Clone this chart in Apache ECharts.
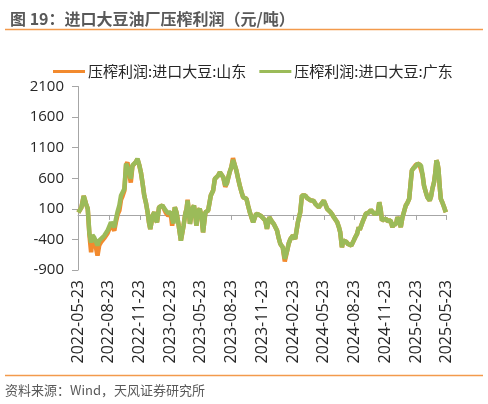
<!DOCTYPE html>
<html>
<head>
<meta charset="utf-8">
<script src="https://cdn.jsdelivr.net/npm/echarts@6/dist/echarts.min.js"></script>
<style>
html,body{margin:0;padding:0;background:#fff;}
#main{width:488px;height:404px;}
</style>
</head>
<body>
<div id="main"></div>
<script>
const titleText = '图 19：进口大豆油厂压榨利润（元/吨）';
const sourceText = '资料来源：Wind，天风证券研究所';
const seriesNames = ['压榨利润:进口大豆:山东', '压榨利润:进口大豆:广东'];
const axisStart = '2022-05-23';
const axisEnd = '2025-05-23';
const yTicks = { min: -900, max: 2100, interval: 500 };

const dates = [
'2022-05-24','2022-06-02','2022-06-09','2022-06-16','2022-06-21','2022-06-26','2022-07-01','2022-07-05','2022-07-10','2022-07-15',
'2022-07-20','2022-07-25','2022-07-30','2022-08-09','2022-08-19','2022-08-29','2022-09-08','2022-09-13','2022-09-18','2022-09-23',
'2022-09-28','2022-10-02','2022-10-08','2022-10-13','2022-10-17','2022-10-22','2022-10-27','2022-11-01','2022-11-06','2022-11-11',
'2022-11-16','2022-11-21','2022-11-26','2022-12-01','2022-12-06','2022-12-11','2022-12-16','2022-12-20','2022-12-24','2022-12-31',
'2023-01-05','2023-01-08','2023-01-13','2023-01-19','2023-01-29','2023-02-03','2023-02-08','2023-02-15','2023-02-23','2023-02-27',
'2023-03-03','2023-03-07','2023-03-12','2023-03-17','2023-03-25','2023-04-02','2023-04-07','2023-04-11','2023-04-14','2023-04-18',
'2023-04-21','2023-04-28','2023-05-03','2023-05-07','2023-05-10','2023-05-15','2023-05-20','2023-05-25','2023-05-30','2023-06-06',
'2023-06-14','2023-06-22','2023-06-29','2023-07-04','2023-07-09','2023-07-14','2023-07-19','2023-07-23','2023-07-29','2023-08-04',
'2023-08-09','2023-08-12','2023-08-17','2023-08-22','2023-08-27','2023-09-01','2023-09-06','2023-09-11','2023-09-16','2023-09-21',
'2023-09-26','2023-10-01','2023-10-06','2023-10-11','2023-10-16','2023-10-21','2023-10-26','2023-10-31','2023-11-04','2023-11-10',
'2023-11-15','2023-11-19','2023-11-24','2023-12-01','2023-12-06','2023-12-13','2023-12-20','2023-12-26','2023-12-31','2024-01-05',
'2024-01-10','2024-01-15','2024-01-22','2024-01-28','2024-02-04','2024-02-09','2024-02-14','2024-02-21','2024-02-28','2024-03-07',
'2024-03-14','2024-03-19','2024-03-24','2024-03-29','2024-04-03','2024-04-08','2024-04-13','2024-04-18','2024-04-23','2024-04-28',
'2024-05-03','2024-05-08','2024-05-13','2024-05-18','2024-05-23','2024-05-28','2024-06-02','2024-06-07','2024-06-12','2024-06-17',
'2024-06-22','2024-06-27','2024-07-02','2024-07-07','2024-07-11','2024-07-16','2024-07-20','2024-07-24','2024-07-29','2024-08-03',
'2024-08-08','2024-08-13','2024-08-20','2024-08-25','2024-08-30','2024-09-04','2024-09-07','2024-09-12','2024-09-17','2024-09-21',
'2024-09-25','2024-09-30','2024-10-05','2024-10-10','2024-10-15','2024-10-20','2024-10-27','2024-10-31','2024-11-04','2024-11-08',
'2024-11-12','2024-11-18','2024-11-24','2024-11-29','2024-12-03','2024-12-08','2024-12-13','2024-12-17','2024-12-21','2024-12-24',
'2024-12-28','2025-01-02','2025-01-07','2025-01-12','2025-01-17','2025-01-22','2025-01-27','2025-02-01','2025-02-05','2025-02-09',
'2025-02-13','2025-02-16','2025-02-21','2025-02-26','2025-03-03','2025-03-08','2025-03-13','2025-03-17','2025-03-22','2025-03-27',
'2025-04-03','2025-04-07','2025-04-11','2025-04-16','2025-04-20','2025-04-23','2025-04-26','2025-04-29','2025-05-03','2025-05-06',
'2025-05-11','2025-05-16','2025-05-21'
];

const guangdong = [
40,120,310,180,100,-310,-450,-330,-365,-430,
-500,-420,-390,-340,-255,-120,-200,-65,60,155,
318,330,428,838,865,720,590,810,830,865,
920,820,700,520,318,200,45,-120,-230,-10,
45,-60,-120,126,155,130,72,30,45,-60,
-140,126,40,-120,-420,-175,18,100,236,30,
-145,100,155,0,-175,60,100,-10,-285,45,
72,318,400,590,600,645,700,727,618,482,
520,590,700,780,900,820,727,600,482,380,
290,300,264,150,45,-40,-120,-40,18,10,
-10,-20,-38,-92,-228,-38,-100,-145,-160,-255,
-380,-475,-530,-720,-585,-460,-390,-340,-390,-120,
45,318,310,318,280,264,240,208,230,182,
160,126,160,182,236,170,100,80,45,10,
-38,-70,-120,-200,-285,-530,-420,-390,-440,-475,
-480,-500,-420,-360,-310,-200,-240,-228,-92,-40,
18,30,45,80,60,18,18,60,208,100,
-92,-70,-65,-100,-120,-90,-200,-150,-120,-150,
-38,-90,-200,-38,60,155,200,264,500,727,
760,782,800,838,830,810,650,482,380,290,
236,300,428,536,700,892,850,755,450,264,
200,126,45
];

const shandong = [
40,120,310,180,100,-330,-610,-400,-420,-520,
-665,-500,-450,-380,-300,-160,-255,-110,10,70,
250,300,400,820,860,680,530,800,830,865,
910,820,700,520,318,200,45,-120,-230,-10,
45,-60,-120,126,155,130,40,-10,20,-175,
-175,126,40,-120,-420,-175,18,100,250,30,
-145,100,155,0,-175,60,100,-10,-285,45,
72,318,400,590,600,645,700,727,618,460,
520,590,700,780,930,820,727,600,482,380,
290,300,264,150,45,-40,-120,-40,18,10,
-10,-20,-38,-92,-228,-38,-100,-145,-160,-255,
-380,-475,-530,-760,-585,-460,-390,-340,-390,-120,
45,318,310,318,280,264,240,208,230,182,
160,126,160,182,236,170,100,80,45,10,
-38,-70,-120,-200,-285,-530,-420,-390,-440,-475,
-480,-500,-420,-360,-310,-200,-240,-228,-92,-40,
18,30,45,80,60,18,18,60,208,100,
-92,-70,-65,-100,-120,-90,-200,-150,-120,-150,
-38,-90,-200,-38,60,155,200,264,500,727,
760,782,820,850,840,810,650,482,380,290,
236,300,428,536,700,892,850,755,450,264,
200,126,45
];

// daily category axis from axisStart to axisEnd
const categories = [];
(function () {
  const s = new Date(axisStart + 'T00:00:00Z');
  const e = new Date(axisEnd + 'T00:00:00Z');
  for (let t = s.getTime(); t <= e.getTime(); t += 86400000) {
    categories.push(new Date(t).toISOString().slice(0, 10));
  }
})();
const catIndex = {};
categories.forEach((c, i) => { catIndex[c] = i; });
const toSeries = vals => dates.map((d, i) => [catIndex[d], vals[i]]);

const isQuarterTick = (idx, val) => val.slice(8, 10) === '23' && ['02', '05', '08', '11'].indexOf(val.slice(5, 7)) >= 0;

const chart = echarts.init(document.getElementById('main'), null, { renderer: 'canvas' });
const axisGray = '#A6A6A6';
chart.setOption({
  animation: false,
  backgroundColor: '#fff',
  title: {
    text: titleText, left: 5, top: 6,
    textStyle: { fontSize: 16, fontWeight: 'bold', color: '#595959', fontFamily: 'Noto Sans CJK SC' }
  },
  graphic: [
    { type: 'line', shape: { x1: 5, y1: 29.5, x2: 483, y2: 29.5 }, style: { stroke: '#F39A4C', lineWidth: 1.5 } },
    { type: 'line', shape: { x1: 5, y1: 375.5, x2: 483, y2: 375.5 }, style: { stroke: '#F39A4C', lineWidth: 1.5 } },
    { type: 'text', left: 5, top: 384, style: { text: sourceText, fontSize: 13, fill: '#595959', fontFamily: 'Noto Sans CJK SC' } }
  ],
  legend: {
    top: 59, left: 48, itemGap: 13, itemWidth: 32, itemHeight: 3, icon: 'rect',
    textStyle: { fontSize: 15, color: '#262626', fontFamily: 'Noto Sans CJK SC', padding: [0, 0, 0, -2] },
    data: seriesNames
  },
  grid: { left: 78, right: 41.5, top: 86.5, bottom: 134, containLabel: false },
  xAxis: {
    type: 'category', data: categories, boundaryGap: false,
    axisLine: { lineStyle: { color: axisGray, width: 1 } },
    axisTick: { show: true, interval: isQuarterTick, length: 5, lineStyle: { color: axisGray } },
    axisLabel: { interval: isQuarterTick, rotate: 90, margin: 10, fontSize: 16, color: '#262626', fontFamily: 'Open Sans' },
    splitLine: { show: false }
  },
  yAxis: {
    type: 'value', min: yTicks.min, max: yTicks.max, interval: yTicks.interval,
    axisLine: { show: true, lineStyle: { color: axisGray, width: 1 } },
    axisTick: { show: true, length: 6, lineStyle: { color: axisGray } },
    axisLabel: { fontSize: 15, color: '#262626', margin: 14, fontFamily: 'Open Sans', formatter: v => String(v) },
    splitLine: { show: false }
  },
  series: [
    { name: seriesNames[0], type: 'line', data: toSeries(shandong), showSymbol: false, symbol: 'none',
      lineStyle: { color: '#F28A2E', width: 4.5 }, itemStyle: { color: '#F28A2E' }, z: 2 },
    { name: seriesNames[1], type: 'line', data: toSeries(guangdong), showSymbol: false, symbol: 'none',
      lineStyle: { color: '#9BBB59', width: 4.5 }, itemStyle: { color: '#9BBB59' }, z: 3 }
  ]
});
</script>
</body>
</html>
